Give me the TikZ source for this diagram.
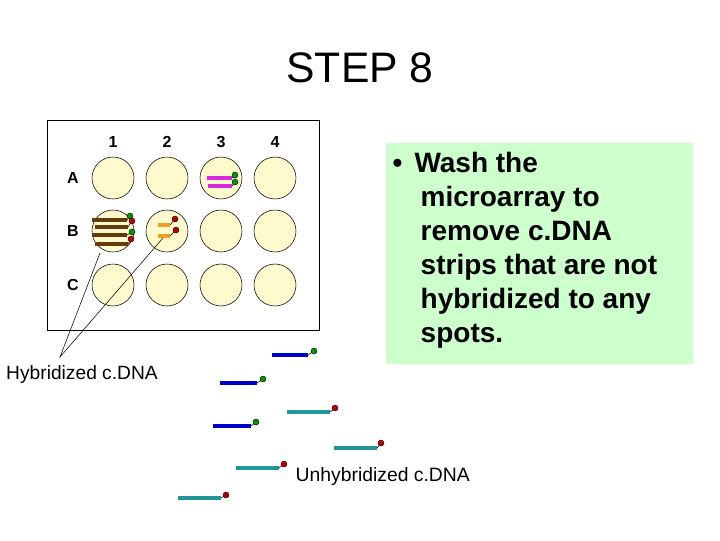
\documentclass[tikz,border=0pt]{standalone}
\usepackage{fontspec}
\setmainfont{Liberation Sans}
\begin{document}
\begin{tikzpicture}[x=0.75pt,y=-0.75pt,
  well/.style={circle,draw=black,minimum size=31.5pt,inner sep=0},
  lab/.style={font=\fontsize{12}{14}\selectfont\bfseries},
  strand/.style={line width=3.2pt},
  gdot/.style={circle,draw=black,line width=0.3pt,fill=green!60!black,inner sep=0,minimum size=4.5pt},
  rdot/.style={circle,draw=black,line width=0.3pt,fill=red!75!black,inner sep=0,minimum size=4.5pt}]
\definecolor{wellfill}{RGB}{255,250,205}
\definecolor{teal2}{RGB}{32,150,150}
\definecolor{brown2}{RGB}{100,60,10}
\definecolor{mag}{RGB}{220,40,220}
\definecolor{orng}{RGB}{240,160,30}
\definecolor{boxgreen}{RGB}{204,255,204}
\useasboundingbox (0,0) rectangle (720,540);
\node (title) at (360,68) {\fontsize{32}{36}\selectfont STEP 8};
\draw (47,120) rectangle (319,330);
\foreach \c/\x in {1/113,2/167,3/221,4/275}
  \node[lab] (col\c) at (\x,142) {\c};
\foreach \r/\y in {A/178,B/231,C/285}{
  \node[lab] (row\r) at (73,\y) {\r};
  \foreach \c/\x in {1/113,2/167,3/221,4/275}
    \node[well,fill=wellfill] (w\r\c) at (\x,\y) {};
}
% A3 magenta
\draw[strand,mag] (207,178) -- (232,178); \draw (232,178) -- (235,175); \node[gdot] at (235,175) {};
\draw[strand,mag] (208,186) -- (232,186); \draw (232,186) -- (235,182); \node[gdot] at (235,182) {};
% B1 brown
\foreach \a/\b/\y/\dx/\dy/\s in {92/127/220/130/216/gdot,95/128/227/132/221/rdot,92/127/235/132/232/gdot,95/128/244/131/239/rdot}{
  \draw[strand,brown2] (\a,\y) -- (\b,\y); \draw (\b,\y) -- (\dx,\dy); \node[\s] at (\dx,\dy) {};
}
% B2 orange
\draw[strand,orng] (158,225) -- (170,225); \draw (170,225) -- (175,219); \node[rdot] at (175,219) {};
\draw[strand,orng] (158,236) -- (170,236); \draw (170,236) -- (176,230); \node[rdot] at (176,230) {};
% labels
\node (hyb) at (82,375) {\fontsize{14.4}{16}\selectfont Hybridized c.DNA};
\coordinate (h0) at (60,357);
\coordinate (t1) at (100,253);
\coordinate (t2) at (163,238);
\draw[line width=0.4pt] (t1) -- (h0) -- (t2);
% unhybridized strands
\foreach \a/\b/\y/\dx/\dy/\col/\s in {272/308/355/314/351/blue!80!black/gdot,220/257/383/263/379/blue!80!black/gdot,287/330/412/335/408/teal2/rdot,213/251/426/256/422/blue!80!black/gdot,334/377/448/381/443/teal2/rdot,236/279/468/284/464/teal2/rdot,178/221/498/226/495/teal2/rdot}{
  \draw[strand,\col] (\a,\y) -- (\b,\y); \draw (\b,\y) -- (\dx,\dy); \node[\s] at (\dx,\dy) {};
}
\node[anchor=west] (unhyb) at (291,476) {\fontsize{14.5}{16}\selectfont Unhybridized c.DNA};
% text box
\node[fill=boxgreen,minimum width=230.25pt,minimum height=165.75pt,anchor=north west] (box) at (386,143) {};
\node[anchor=north west,align=left,font=\fontsize{21}{25.5}\selectfont\bfseries] (txt) at (388,147)
  {\textbullet\hspace{9pt}Wash the\\\hspace{21pt}microarray to\\\hspace{21pt}remove c.DNA\\\hspace{21pt}strips that are not\\\hspace{21pt}hybridized to any\\\hspace{21pt}spots.};
\end{tikzpicture}
\end{document}
